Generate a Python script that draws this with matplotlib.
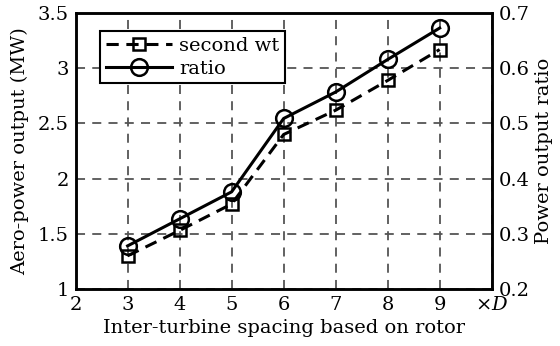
import matplotlib.pyplot as plt
from matplotlib.lines import Line2D

plt.rcParams['font.family'] = 'DejaVu Serif'
plt.rcParams['mathtext.fontset'] = 'dejavuserif'

spacing = [3, 4, 5, 6, 7, 8, 9]
second_wt = [1.30, 1.53, 1.77, 2.40, 2.62, 2.89, 3.17]
ratio = [0.278, 0.327, 0.376, 0.509, 0.557, 0.616, 0.673]

x_ticks = [2, 3, 4, 5, 6, 7, 8, 9, 10]
x_labels = ['2', '3', '4', '5', '6', '7', '8', '9', r'$\times D$']
left_ticks = [1, 1.5, 2, 2.5, 3, 3.5]
left_labels = ['1', '1.5', '2', '2.5', '3', '3.5']
right_ticks = [0.2, 0.3, 0.4, 0.5, 0.6, 0.7]

fig, ax = plt.subplots(figsize=(5.6, 3.46), dpi=100)
fig.subplots_adjust(left=0.135, right=0.878, top=0.962, bottom=0.165)
ax2 = ax.twinx()

ax.plot(spacing, second_wt, color='black', linestyle=(0, (4, 2.5)), linewidth=2.2,
        marker='s', markersize=9, markerfacecolor='none', markeredgewidth=1.8)
ax2.plot(spacing, ratio, color='black', linestyle='-', linewidth=2.2,
         marker='o', markersize=12, markerfacecolor='none', markeredgewidth=1.8)

ax.set_xlim(2, 10)
ax.set_ylim(1, 3.5)
ax2.set_ylim(0.2, 0.7)
ax.set_xticks(x_ticks)
ax.set_xticklabels(x_labels)
ax.set_yticks(left_ticks)
ax.set_yticklabels(left_labels)
ax2.set_yticks(right_ticks)

ax.grid(True, color='#555555', linestyle=(0, (5, 4)), linewidth=1.3)
for a in (ax, ax2):
    a.tick_params(direction='in', length=0, labelsize=14, pad=5)
    for s in a.spines.values():
        s.set_linewidth(1.8)

ax.set_xlabel('Inter-turbine spacing based on rotor', fontsize=14, labelpad=4)
ax.set_ylabel('Aero-power output (MW)', fontsize=14, labelpad=6)
ax2.set_ylabel('Power output ratio', fontsize=14, labelpad=4)

handles = [
    Line2D([], [], color='black', linestyle=(0, (4, 2.5)), linewidth=2.2,
           marker='s', markersize=9, markerfacecolor='none', markeredgewidth=1.8),
    Line2D([], [], color='black', linestyle='-', linewidth=2.2,
           marker='o', markersize=12, markerfacecolor='none', markeredgewidth=1.8),
]
leg = ax.legend(handles, ['second wt', 'ratio'], loc='upper left',
                bbox_to_anchor=(0.05, 0.95), fancybox=False, framealpha=1,
                edgecolor='black', fontsize=14, handlelength=3.4, borderpad=0.3,
                labelspacing=0.25, handletextpad=0.35, borderaxespad=0.2)
leg.get_frame().set_linewidth(1.5)

fig.savefig('out.png')
